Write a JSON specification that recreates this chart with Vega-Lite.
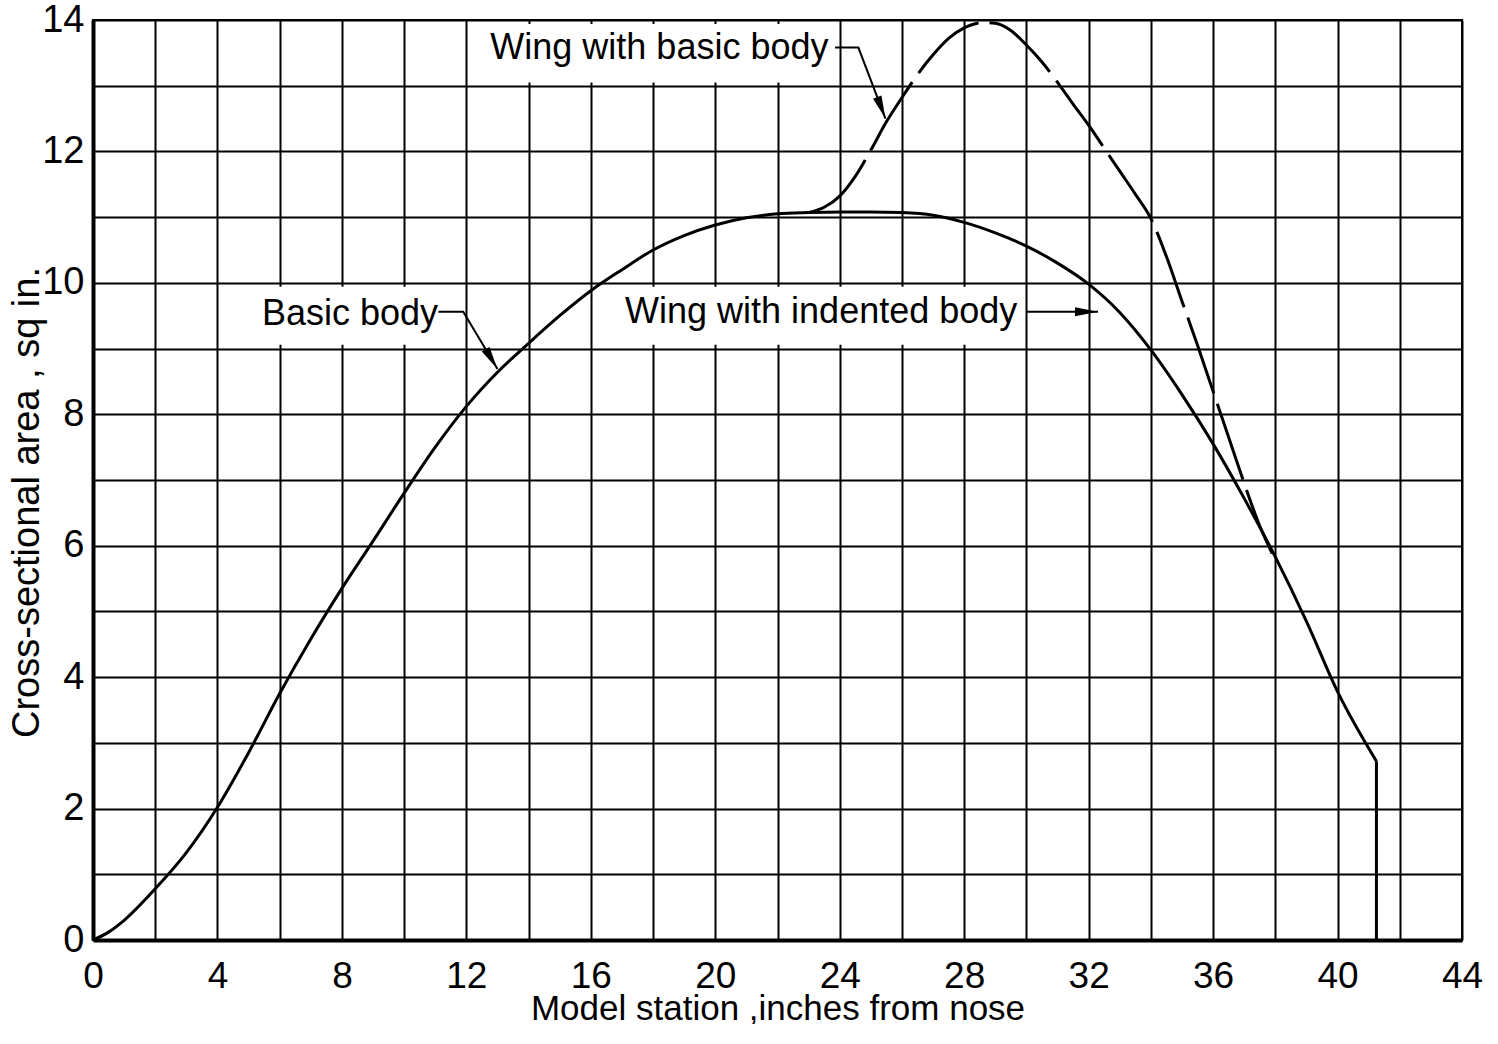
{
  "$schema": "https://vega.github.io/schema/vega-lite/v6.json",
  "autosize": {"type": "none"},
  "padding": {"left": 93, "top": 20, "right": 36, "bottom": 84},
  "width": 1369,
  "height": 920,
  "background": "white",
  "config": {
    "view": {"stroke": "black", "strokeWidth": 2},
    "font": "Liberation Sans"
  },
  "datasets": {
    "solid": [
      {"i":0,"x":0,"y":0},{"i":1,"x":0.5,"y":0.12},{"i":2,"x":1,"y":0.3},{"i":3,"x":2,"y":0.78},
      {"i":4,"x":3,"y":1.33},{"i":5,"x":4,"y":2.02},{"i":6,"x":5,"y":2.85},{"i":7,"x":6,"y":3.75},
      {"i":8,"x":7,"y":4.58},{"i":9,"x":8,"y":5.35},{"i":10,"x":9,"y":6.07},
      {"i":11,"x":10,"y":6.8},{"i":12,"x":11,"y":7.5},{"i":13,"x":12,"y":8.12},{"i":14,"x":13,"y":8.64},
      {"i":15,"x":14,"y":9.08},{"i":16,"x":15,"y":9.5},{"i":17,"x":16,"y":9.88},{"i":18,"x":17,"y":10.2},
      {"i":19,"x":18,"y":10.5},{"i":20,"x":19,"y":10.72},{"i":21,"x":20,"y":10.88},{"i":22,"x":21,"y":10.99},
      {"i":23,"x":22,"y":11.05},{"i":24,"x":23,"y":11.07},{"i":25,"x":24,"y":11.08},{"i":26,"x":25,"y":11.08},
      {"i":27,"x":26,"y":11.07},{"i":28,"x":27,"y":11.03},{"i":29,"x":28,"y":10.92},{"i":30,"x":29,"y":10.76},
      {"i":31,"x":30,"y":10.56},{"i":32,"x":31,"y":10.3},{"i":33,"x":32,"y":9.98},{"i":34,"x":33,"y":9.55},
      {"i":35,"x":34,"y":8.98},{"i":36,"x":35,"y":8.3},{"i":37,"x":36,"y":7.55},{"i":38,"x":37,"y":6.72},
      {"i":39,"x":38,"y":5.83},{"i":40,"x":39,"y":4.85},{"i":41,"x":40,"y":3.78},{"i":42,"x":41.25,"y":2.72},
      {"i":43,"x":41.25,"y":0}
    ],
    "dashed": [
      {"i":0,"x":23,"y":11.07},{"i":1,"x":23.5,"y":11.15},{"i":2,"x":24,"y":11.32},{"i":3,"x":24.5,"y":11.62},
      {"i":4,"x":25,"y":12.02},{"i":5,"x":25.5,"y":12.45},{"i":6,"x":26,"y":12.82},{"i":7,"x":26.5,"y":13.17},
      {"i":8,"x":27,"y":13.47},{"i":9,"x":27.5,"y":13.72},{"i":10,"x":28,"y":13.88},{"i":11,"x":28.6,"y":13.96},
      {"i":12,"x":29,"y":13.95},{"i":13,"x":29.5,"y":13.84},{"i":14,"x":30,"y":13.62},{"i":15,"x":30.5,"y":13.36},
      {"i":16,"x":31,"y":13.05},{"i":17,"x":31.5,"y":12.72},{"i":18,"x":32,"y":12.4},{"i":19,"x":32.5,"y":12.05},
      {"i":20,"x":33,"y":11.7},{"i":21,"x":33.5,"y":11.35},{"i":22,"x":34,"y":10.98},{"i":23,"x":34.5,"y":10.4},
      {"i":24,"x":35,"y":9.72},{"i":25,"x":35.5,"y":9.05},{"i":26,"x":36,"y":8.35},{"i":27,"x":36.5,"y":7.65},
      {"i":28,"x":37,"y":6.95},{"i":29,"x":37.5,"y":6.3},{"i":30,"x":37.9,"y":5.88}
    ],
    "boxes": [
      {"label":"Basic body","x":5.1,"x2":11.9,"y":9.06,"y2":9.94},
      {"label":"Wing with indented body","x":16.6,"x2":29.85,"y":9.06,"y2":9.94},
      {"label":"Wing with basic body","x":12.15,"x2":23.85,"y":13.05,"y2":13.94}
    ],
    "leaders": [
      {"label":"Basic body","i":0,"x":11.1,"y":9.56},
      {"label":"Basic body","i":1,"x":11.9,"y":9.56},
      {"label":"Basic body","i":2,"x":13.0,"y":8.69},
      {"label":"Wing with indented body","i":0,"x":30.0,"y":9.56},
      {"label":"Wing with indented body","i":1,"x":32.3,"y":9.56},
      {"label":"Wing with basic body","i":0,"x":23.85,"y":13.58},
      {"label":"Wing with basic body","i":1,"x":24.6,"y":13.58},
      {"label":"Wing with basic body","i":2,"x":25.47,"y":12.5}
    ],
    "arrows": [
      {"label":"Basic body","x":13.0,"y":8.69},
      {"label":"Wing with indented body","x":32.3,"y":9.56},
      {"label":"Wing with basic body","x":25.47,"y":12.5}
    ],
    "labels": [
      {"label":"Basic body","x":5.43,"y":9.52},
      {"label":"Wing with indented body","x":17.1,"y":9.56},
      {"label":"Wing with basic body","x":12.77,"y":13.58}
    ]
  },
  "encoding": {
    "x": {
      "field": "x", "type": "quantitative",
      "scale": {"domain": [0, 44], "nice": false, "zero": false},
      "axis": {
        "title": "Model station ,inches from nose",
        "values": [0,2,4,6,8,10,12,14,16,18,20,22,24,26,28,30,32,34,36,38,40,42,44],
        "labelExpr": "datum.value % 4 === 0 ? datum.label : ''",
        "grid": true, "gridColor": "black", "gridWidth": 2, "gridOpacity": 1,
        "ticks": false,
        "domain": true, "domainColor": "black", "domainWidth": 4,
        "labelFont": "Liberation Sans", "labelFontSize": 37, "labelColor": "black", "labelPadding": 18,
        "labelFlush": false, "labelOverlap": false,
        "titleFont": "Liberation Sans", "titleFontSize": 35, "titleFontWeight": "normal", "titleColor": "black",
        "titleBaseline": "alphabetic", "titleY": 79
      }
    },
    "y": {
      "field": "y", "type": "quantitative",
      "scale": {"domain": [0, 14], "nice": false, "zero": false},
      "axis": {
        "title": "Cross-sectional  area , sq in.",
        "values": [0,1,2,3,4,5,6,7,8,9,10,11,12,13,14],
        "labelExpr": "datum.value % 2 === 0 ? datum.label : ''",
        "grid": true, "gridColor": "black", "gridWidth": 2, "gridOpacity": 1,
        "ticks": false,
        "domain": true, "domainColor": "black", "domainWidth": 4,
        "labelFont": "Liberation Sans", "labelFontSize": 38, "labelColor": "black", "labelPadding": 9,
        "labelFlush": false, "labelOverlap": false, "labelBaseline": "middle",
        "titleFont": "Liberation Sans", "titleFontSize": 38, "titleFontWeight": "normal", "titleColor": "black",
        "titleAngle": -90, "titleAlign": "center", "titleBaseline": "middle", "titleX": -66, "titleY": 482
      }
    }
  },
  "layer": [
    {
      "data": {"name": "boxes"},
      "mark": {"type": "rect", "fill": "white", "stroke": null},
      "encoding": {"x2": {"field": "x2"}, "y2": {"field": "y2"}}
    },
    {
      "data": {"name": "solid"},
      "transform": [{"filter": "datum.i <= 42"}],
      "mark": {"type": "line", "stroke": "black", "strokeWidth": 3, "interpolate": "monotone"},
      "encoding": {"order": {"field": "i", "type": "quantitative"}}
    },
    {
      "data": {"name": "solid"},
      "transform": [{"filter": "datum.i >= 42"}],
      "mark": {"type": "line", "stroke": "black", "strokeWidth": 3},
      "encoding": {"order": {"field": "i", "type": "quantitative"}}
    },
    {
      "data": {"name": "dashed"},
      "mark": {"type": "line", "stroke": "black", "strokeWidth": 3, "strokeDash": [80, 11], "interpolate": "monotone"},
      "encoding": {"order": {"field": "i", "type": "quantitative"}}
    },
    {
      "data": {"name": "leaders"},
      "mark": {"type": "line", "stroke": "black", "strokeWidth": 2},
      "encoding": {"detail": {"field": "label"}, "order": {"field": "i", "type": "quantitative"}}
    },
    {
      "data": {"name": "arrows"},
      "transform": [{"filter": "datum.label === 'Basic body'"}],
      "mark": {"type": "point", "shape": "M0,0L0.45,2.3L-0.45,2.3Z", "filled": true, "fill": "black", "stroke": null, "size": 400, "angle": 149, "opacity": 1}
    },
    {
      "data": {"name": "arrows"},
      "transform": [{"filter": "datum.label === 'Wing with indented body'"}],
      "mark": {"type": "point", "shape": "M0,0L0.45,2.3L-0.45,2.3Z", "filled": true, "fill": "black", "stroke": null, "size": 400, "angle": 90, "opacity": 1}
    },
    {
      "data": {"name": "arrows"},
      "transform": [{"filter": "datum.label === 'Wing with basic body'"}],
      "mark": {"type": "point", "shape": "M0,0L0.45,2.3L-0.45,2.3Z", "filled": true, "fill": "black", "stroke": null, "size": 400, "angle": 159, "opacity": 1}
    },
    {
      "data": {"name": "labels"},
      "mark": {"type": "text", "align": "left", "baseline": "middle", "font": "Liberation Sans", "fontSize": 36, "color": "black"},
      "encoding": {"text": {"field": "label"}}
    }
  ]
}
